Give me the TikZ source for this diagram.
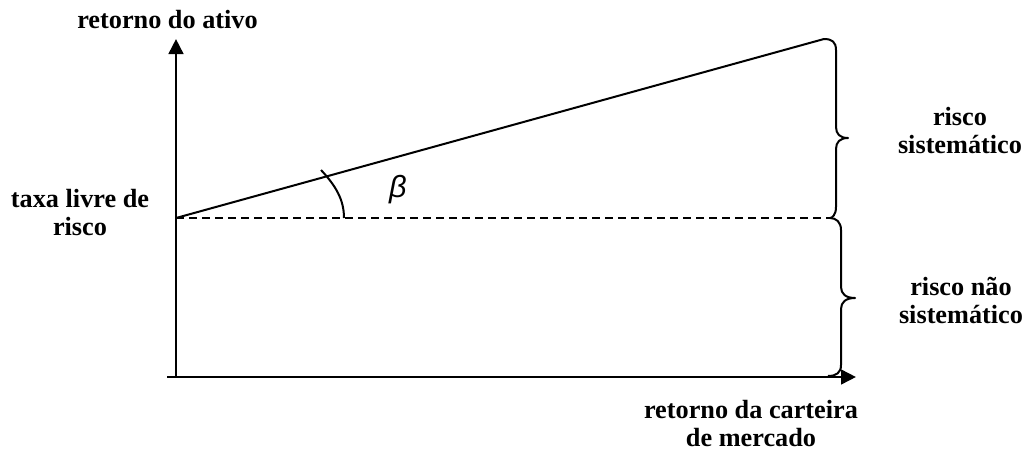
\documentclass[tikz,border=0pt]{standalone}
\usepackage{fontspec}
\setmainfont{Liberation Serif}
\newfontfamily\betafont{Liberation Sans}
\usetikzlibrary{arrows.meta}
\begin{document}
\begin{tikzpicture}[x=0.75pt,y=-0.75pt,
  lbl/.style={font=\fontsize{19.7}{21}\selectfont\bfseries,align=center,inner sep=0pt},
  axis/.style={line width=1.9pt,-{Triangle[length=11.25pt,width=11pt]}},
  curve/.style={line width=1.5pt},
  brace/.style={line width=1.5pt,line join=round}]
\useasboundingbox (0,0) rectangle (1024,450);
\coordinate (O) at (176,377);
\coordinate (xs) at (167,377);
\coordinate (xe) at (856,377);
\coordinate (ye) at (176,39);
\coordinate (rf) at (176,218);
\coordinate (top) at (824,39);
\coordinate (de) at (830,218);
\draw[axis] (O) -- (ye);
\draw[axis] (xs) -- (xe);
\draw[curve] (rf) -- (top);
\draw[curve,dash pattern=on 6pt off 3.75pt] (rf) -- (de);
% angle arc
\draw[curve] (321,170) .. controls (336,186) and (344,200) .. (344,218);
\node (beta) at (398,190) {\betafont\itshape\fontsize{23}{24}\selectfont β};
% braces
\draw[brace] (top) .. controls (832,39) and (836,42) .. (836,50) -- (836,127)
  .. controls (836,134) and (840,138) .. (848,138)
  .. controls (840,138) and (836,142) .. (836,149) -- (836,207)
  .. controls (836,215) and (832,218) .. (de);
\draw[brace] (de) .. controls (836,218) and (841,222) .. (841,230) -- (841,287)
  .. controls (841,294) and (846,298) .. (855,298)
  .. controls (846,298) and (841,302) .. (841,309) -- (841,365)
  .. controls (841,373) and (836,376) .. (828,376);
% labels (base anchor = baseline of the last line)
\node[lbl,anchor=base] (ylab) at (167.5,28) {retorno do ativo};
\node[lbl,anchor=base] (rflab) at (80,235) {taxa livre de\\risco};
\node[lbl,anchor=base] (sis) at (960,153) {risco\\sistemático};
\node[lbl,anchor=base] (nsis) at (961,323) {risco não\\sistemático};
\node[lbl,anchor=base] (xlab) at (751,446) {retorno da carteira\\de mercado};
\end{tikzpicture}
\end{document}
